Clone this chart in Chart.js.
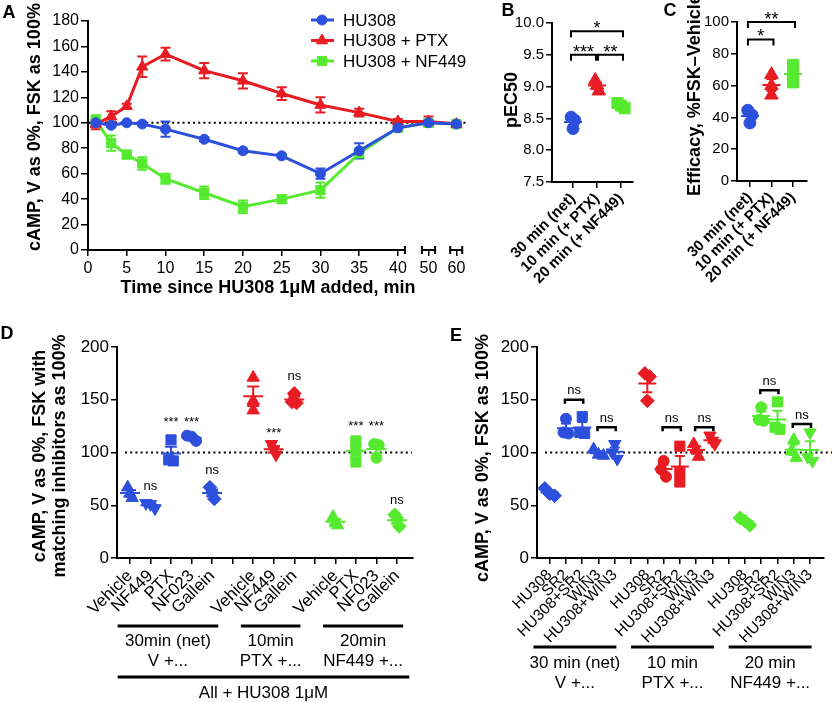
<!DOCTYPE html>
<html>
<head>
<meta charset="utf-8">
<script src="https://cdn.jsdelivr.net/npm/chart.js@4.4.1/dist/chart.umd.min.js"></script>
<style>
  html, body { margin: 0; padding: 0; background: #fff; }
  #wrap { position: relative; width: 832px; height: 702px; overflow: hidden; }
  #wrap canvas { position: absolute; left: 0; top: 0; }
</style>
</head>
<body>
<div id="wrap">
  <canvas id="chartA" width="832" height="702"></canvas>
  <canvas id="chartB" width="832" height="702"></canvas>
  <canvas id="chartC" width="832" height="702"></canvas>
  <canvas id="chartD" width="832" height="702"></canvas>
  <canvas id="chartE" width="832" height="702"></canvas>
</div>
<script>
// ---- A: time course after HU308 1uM ----
const timeMin = [1, 3, 5, 7, 10, 15, 20, 25, 30, 35, 40, 50, 60];
const timeTicks = [0, 5, 10, 15, 20, 25, 30, 35, 40, 50, 60];
const hu308 = [100, 98, 100, 99, 95, 87, 78, 74, 60, 78, 96, 100, 99];
const hu308Sem = [3, 1, 1, 1, 6, 1.5, 1.5, 1.5, 4, 6, 2, 1.5, 1.5];
const hu308Ptx = [99, 105, 113, 144, 154, 141, 133, 123, 114, 108, 101, 101, 99];
const hu308PtxSem = [4, 4, 2, 8, 5, 6, 6, 5, 6, 3, 2, 4, 2];
const hu308Nf449 = [102, 84, 75, 68, 56, 45, 34, 40, 47, 76, 96, 100, 99];
const hu308Nf449Sem = [4, 6, 3, 5, 4, 5, 5, 3, 6, 3, 2, 3, 2];

// ---- B / C ----
const groupsBC = ['30 min (net)', '10 min (+ PTX)', '20 min (+ NF449)'];
const pEC50 = [[8.52, 8.47, 8.34], [9.10, 9.02, 8.93], [8.74, 8.70, 8.66]];
const efficacy = [[44.5, 41.5, 36.5], [67, 60, 54], [73, 67, 62]];
const sigB = [
    { from: 0, to: 2, y: 9.87, label: '*' },
    { from: 0, to: 1, y: 9.5, label: '***' },
    { from: 1, to: 2, y: 9.5, label: '**' }
];
const sigC = [
    { from: 0, to: 2, y: 100, label: '**' },
    { from: 0, to: 1, y: 89, label: '*' }
];

// ---- D ----
const inhibitorsD = ['Vehicle', 'NF449', 'PTX', 'NF023', 'Gallein', '',
    'Vehicle', 'NF449', 'Gallein', '',
    'Vehicle', 'PTX', 'NF023', 'Gallein'];
const campD = [[67, 61, 57], [52, 51, 47], [112, 93, 92], [116, 115, 111], [67, 62, 56], null,
    [171, 149, 140], [108, 103, 98], [156, 148, 147], null,
    [39, 33, 31], [111, 102, 91], [108, 107, 95], [41, 36, 30]];
const sigD = [
    { at: 1, y: 68, label: 'ns' },
    { at: 2, y: 132, label: '***' },
    { at: 3, y: 132, label: '***' },
    { at: 4, y: 83, label: 'ns' },
    { at: 7, y: 122, label: '***' },
    { at: 8, y: 172, label: 'ns' },
    { at: 11, y: 128, label: '***' },
    { at: 12, y: 128, label: '***' },
    { at: 13, y: 54, label: 'ns' }
];
const pretreatD = [
    { from: 0, to: 4, lines: ['30min (net)', 'V +...'] },
    { from: 6, to: 8, lines: ['10min', 'PTX +...'] },
    { from: 10, to: 13, lines: ['20min', 'NF449 +...'] }
];
const footD = 'All + HU308 1\u03bcM';

// ---- E ----
const agonistsE = ['HU308', 'SR2', 'HU308+SR2', 'WIN3', 'HU308+WIN3'];
const labelsE = [...agonistsE, '', ...agonistsE, '', ...agonistsE];
const campE = [[66, 61, 59], [132, 119, 118], [134, 119, 118], [103, 98, 97], [108, 100, 94], null,
    [175, 172, 149], [92, 84, 77], [106, 82, 72], [108, 103, 96], [116, 111, 108], null,
    [38, 35, 31], [143, 131, 130], [148, 124, 122], [112, 101, 95], [119, 96, 92]];
const nsPairsE = [
    { from: 1, to: 2, y: 150 }, { from: 3, to: 4, y: 124 },
    { from: 7, to: 8, y: 124 }, { from: 9, to: 10, y: 124 },
    { from: 13, to: 14, y: 159 }, { from: 15, to: 16, y: 127 }
];
const pretreatE = [
    { from: 0, to: 4, lines: ['30 min (net)', 'V +...'] },
    { from: 6, to: 10, lines: ['10 min', 'PTX +...'] },
    { from: 12, to: 16, lines: ['20 min', 'NF449 +...'] }
];

// ---- styles ----
const FONT = "'Liberation Sans', Arial, Helvetica, sans-serif";
const BLUE = '#2d50dc';
const RED = '#e81c23';
const GREEN = '#55ea2f';
const GROUP_COLORS = [BLUE, RED, GREEN];
const SHAPES = {
    circle: ['circle', 1, 0],
    triangle: ['triangle', 1.3, 0],
    down: ['triangle', 1.3, 180],
    square: ['rect', 1.3, 0],
    diamond: ['rectRot', 1.25, 0]
};
const shapeOfD = { Vehicle: 'triangle', NF449: 'down', PTX: 'square', NF023: 'circle', Gallein: 'diamond' };
const shapeOfE = { 'HU308': 'diamond', 'SR2': 'circle', 'HU308+SR2': 'square', 'WIN3': 'triangle', 'HU308+WIN3': 'down' };

Chart.defaults.font.family = FONT;
Chart.defaults.color = '#000';

const GRID = { drawOnChartArea: false, drawTicks: true, tickLength: 6, color: '#000', tickColor: '#000', tickWidth: 1.5, lineWidth: 1.5 };
const BORDER = { color: '#000', width: 2 };

function drawText(ctx, str, x, y, size, o) {
    o = o || {};
    ctx.save();
    ctx.font = (o.bold ? 'bold ' : '') + size + 'px ' + FONT;
    ctx.fillStyle = '#000';
    ctx.textAlign = o.align || 'center';
    ctx.textBaseline = o.baseline || 'middle';
    ctx.translate(x, y);
    if (o.rot) ctx.rotate(o.rot);
    ctx.fillText(str, 0, 0);
    ctx.restore();
}

function line(ctx, x1, y1, x2, y2, w) {
    ctx.save();
    ctx.strokeStyle = '#000';
    ctx.lineWidth = w || 2;
    ctx.beginPath();
    ctx.moveTo(x1, y1);
    ctx.lineTo(x2, y2);
    ctx.stroke();
    ctx.restore();
}

function dotted100(chart, x1, x2) {
    const ctx = chart.ctx, y = chart.scales.y.getPixelForValue(100);
    ctx.save();
    ctx.strokeStyle = '#000';
    ctx.lineWidth = 2;
    ctx.setLineDash([2, 3.2]);
    ctx.beginPath();
    ctx.moveTo(x1, y);
    ctx.lineTo(x2, y);
    ctx.stroke();
    ctx.restore();
}

function bracket(ctx, x1, x2, y, drop, w) {
    ctx.save();
    ctx.strokeStyle = '#000';
    ctx.lineWidth = w || 2;
    ctx.beginPath();
    ctx.moveTo(x1, y + drop);
    ctx.lineTo(x1, y);
    ctx.lineTo(x2, y);
    ctx.lineTo(x2, y + drop);
    ctx.stroke();
    ctx.restore();
}

// spread overlapping replicate points sideways, like a scatter dot plot
function spread(vals, tol, step) {
    return vals.map((v, k) => {
        const near = vals.map((w, m) => m).filter(m => Math.abs(vals[m] - v) < tol);
        const r = near.indexOf(k);
        return (r - (near.length - 1) / 2) * step;
    });
}

function colorByGroup(groups, i) {
    const g = groups.findIndex(gr => i >= gr.from && i <= gr.to);
    return GROUP_COLORS[g];
}

// ---------------- Panel A ----------------
function brokenAxis(t) {
    return t <= 40 ? t : 43.95 + (t - 50) * 0.36;
}

function seriesA(label, values, sem, color, shape, r) {
    return {
        label: label,
        data: values.map((v, i) => ({ x: brokenAxis(timeMin[i]), y: v })),
        sem: sem,
        borderColor: color,
        backgroundColor: color,
        pointStyle: shape,
        pointRadius: r,
        pointBorderWidth: 1,
        borderWidth: 3,
        tension: 0
    };
}

var chartA = new Chart(document.getElementById('chartA'), {
    type: 'line',
    data: {
        datasets: [
            seriesA('HU308', hu308, hu308Sem, BLUE, 'circle', 5),
            seriesA('HU308 + PTX', hu308Ptx, hu308PtxSem, RED, 'triangle', 6.5),
            seriesA('HU308 + NF449', hu308Nf449, hu308Nf449Sem, GREEN, 'rect', 6.5)
        ]
    },
    options: {
        responsive: false,
        animation: false,
        events: [],
        layout: { padding: { left: 0, top: 21, right: 369, bottom: 0 } },
        plugins: { legend: { display: false }, tooltip: { enabled: false } },
        scales: {
            x: {
                type: 'linear', min: 0, max: 48.4,
                afterBuildTicks: s => { s.ticks = timeTicks.map(t => ({ value: brokenAxis(t) })); },
                afterFit: s => { s.height = 702 - 250; },
                ticks: { autoSkip: false, maxRotation: 0, padding: 3, font: { size: 16 }, callback: (v, i) => String(timeTicks[i]) },
                grid: GRID,
                border: { display: false }
            },
            y: {
                min: 0, max: 180,
                afterFit: s => { s.width = 88; },
                ticks: { stepSize: 20, padding: 2, font: { size: 16 } },
                grid: Object.assign({}, GRID, { tickLength: 7 }),
                border: BORDER
            }
        }
    },
    plugins: [{
        id: 'belowA',
        beforeDatasetsDraw(chart) {
            dotted100(chart, 89, 466);
            const ctx = chart.ctx, xs = chart.scales.x, ys = chart.scales.y;
            for (let d = chart.data.datasets.length - 1; d >= 0; d--) {
                const ds = chart.data.datasets[d];
                ctx.save();
                ctx.strokeStyle = ds.borderColor;
                ctx.lineWidth = 2;
                ds.data.forEach((pt, j) => {
                    const e = ds.sem[j];
                    const x = xs.getPixelForValue(pt.x);
                    const y1 = ys.getPixelForValue(pt.y + e), y2 = ys.getPixelForValue(pt.y - e);
                    ctx.beginPath();
                    ctx.moveTo(x, y1); ctx.lineTo(x, y2);
                    ctx.moveTo(x - 5, y1); ctx.lineTo(x + 5, y1);
                    ctx.moveTo(x - 5, y2); ctx.lineTo(x + 5, y2);
                    ctx.stroke();
                });
                ctx.restore();
            }
        }
    }, {
        id: 'decorA',
        afterDraw(chart) {
            const ctx = chart.ctx, xs = chart.scales.x, y = chart.chartArea.bottom;
            // broken x axis
            [[0, 40.9, false], [43.1, 44.8, true], [46.75, 48.3, true]].forEach(([a, b, capA]) => {
                const x1 = xs.getPixelForValue(a), x2 = xs.getPixelForValue(b);
                line(ctx, x1 - 1, y, x2, y, 2);
                if (capA) line(ctx, x1, y - 4, x1, y + 4, 2);
                line(ctx, x2, y - 4, x2, y + 4, 2);
            });
            drawText(ctx, 'A', 9, 13, 18, { bold: true });
            drawText(ctx, 'cAMP, V as 0%, FSK as 100%', 35, 127, 18, { bold: true, rot: -Math.PI / 2 });
            drawText(ctx, 'Time since HU308 1\u03bcM added, min', 268, 288, 18, { bold: true });
            // legend
            chart.data.datasets.forEach((ds, i) => {
                const ly = 20 + i * 20.5;
                ctx.save();
                ctx.strokeStyle = ds.borderColor;
                ctx.fillStyle = ds.backgroundColor;
                ctx.lineWidth = 3;
                ctx.beginPath(); ctx.moveTo(311, ly); ctx.lineTo(334, ly); ctx.stroke();
                ctx.lineWidth = 1;
                Chart.helpers.drawPoint(ctx, { pointStyle: ds.pointStyle, radius: ds.pointRadius, rotation: 0, borderWidth: 1 }, 322, ly);
                ctx.restore();
                drawText(ctx, ds.label, 343, ly + 1, 17, { align: 'left' });
            });
        }
    }]
});

// ---------------- dot plot panels ----------------
function dotPanel(id, p) {
    const datasets = [];
    p.values.forEach((vals, i) => {
        if (!vals) return;
        const off = spread(vals, p.tol, p.step);
        const sh = SHAPES[p.shapes[i]];
        datasets.push({
            cat: i,
            values: vals,
            data: vals.map((v, j) => ({ x: i + off[j], y: v })),
            pointStyle: sh[0],
            pointRadius: p.radius * sh[1],
            pointRotation: sh[2],
            pointBorderWidth: 1,
            backgroundColor: p.colors[i],
            borderColor: p.colors[i]
        });
    });
    return new Chart(document.getElementById(id), {
        type: 'scatter',
        data: { datasets: datasets },
        options: {
            responsive: false,
            animation: false,
            events: [],
            layout: { padding: { left: 0, top: p.area.top, right: 832 - p.area.right, bottom: 0 } },
            plugins: { legend: { display: false }, tooltip: { enabled: false } },
            scales: {
                x: {
                    type: 'linear', min: p.xMin, max: p.xMax,
                    afterBuildTicks: s => { s.ticks = p.labels.map((_, i) => ({ value: i })); },
                    afterFit: s => { s.height = 702 - p.area.bottom; },
                    ticks: { autoSkip: false, minRotation: 45, maxRotation: 45, padding: 2, font: p.xFont, callback: (v, i) => p.labels[i] },
                    grid: GRID,
                    border: BORDER
                },
                y: {
                    min: p.yMin, max: p.yMax,
                    afterFit: s => { s.width = p.area.left; },
                    ticks: { stepSize: p.yStep, padding: 2, font: p.yFont, callback: p.yFormat || (v => v) },
                    grid: GRID,
                    border: BORDER
                }
            }
        },
        plugins: [{
            id: 'below',
            beforeDatasetsDraw(chart) { if (p.below) p.below(chart); }
        }, {
            id: 'meanSem',
            afterDatasetsDraw(chart) {
                const ctx = chart.ctx, xs = chart.scales.x, ys = chart.scales.y;
                chart.data.datasets.forEach(ds => {
                    const n = ds.values.length;
                    const m = ds.values.reduce((a, b) => a + b, 0) / n;
                    const sd = Math.sqrt(ds.values.reduce((a, b) => a + (b - m) * (b - m), 0) / (n - 1));
                    const sem = sd / Math.sqrt(n);
                    const cx = xs.getPixelForValue(ds.cat);
                    const ym = ys.getPixelForValue(m), y1 = ys.getPixelForValue(m + sem), y2 = ys.getPixelForValue(m - sem);
                    ctx.save();
                    ctx.strokeStyle = ds.borderColor;
                    ctx.lineWidth = 2;
                    ctx.beginPath();
                    ctx.moveTo(cx - p.meanHalf, ym); ctx.lineTo(cx + p.meanHalf, ym);
                    ctx.moveTo(cx, y1); ctx.lineTo(cx, y2);
                    ctx.moveTo(cx - p.capHalf, y1); ctx.lineTo(cx + p.capHalf, y1);
                    ctx.moveTo(cx - p.capHalf, y2); ctx.lineTo(cx + p.capHalf, y2);
                    ctx.stroke();
                    ctx.restore();
                });
            }
        }, {
            id: 'decor',
            afterDraw(chart) { p.decor(chart, chart.ctx, chart.scales.x, chart.scales.y); }
        }]
    });
}

function sigBrackets(list, ctx, xs, ys) {
    list.forEach(s => {
        const x1 = xs.getPixelForValue(s.from) - 2 + (s.from > 0 ? 3 : 0);
        const x2 = xs.getPixelForValue(s.to) + 2 - (s.to < 2 && list.some(o => o.from === s.to) ? 3 : 0);
        const y = ys.getPixelForValue(s.y);
        bracket(ctx, x1, x2, y, 6, 2);
        drawText(ctx, s.label, (x1 + x2) / 2, y + 3, 18, { baseline: 'alphabetic' });
    });
}

var chartB = dotPanel('chartB', {
    labels: groupsBC,
    values: pEC50,
    colors: GROUP_COLORS,
    shapes: ['circle', 'triangle', 'square'],
    radius: 6, tol: 0.12, step: 0.15, meanHalf: 9, capHalf: 5,
    area: { left: 552, right: 633, top: 23, bottom: 182 },
    xMin: -0.875, xMax: 2.5,
    yMin: 7.5, yMax: 10, yStep: 0.5, yFormat: v => v.toFixed(1),
    xFont: { size: 15, weight: 'bold' }, yFont: { size: 15 },
    decor(chart, ctx, xs, ys) {
        drawText(ctx, 'B', 508, 11, 18, { bold: true });
        drawText(ctx, 'pEC50', 512, 100, 18, { bold: true, rot: -Math.PI / 2 });
        sigBrackets(sigB, ctx, xs, ys);
    }
});

var chartC = dotPanel('chartC', {
    labels: groupsBC,
    values: efficacy,
    colors: GROUP_COLORS,
    shapes: ['circle', 'triangle', 'square'],
    radius: 6, tol: 5, step: 0.2, meanHalf: 9, capHalf: 5,
    area: { left: 737, right: 807, top: 22, bottom: 181 },
    xMin: -0.6, xMax: 2.65,
    yMin: 0, yMax: 100, yStep: 20,
    xFont: { size: 15, weight: 'bold' }, yFont: { size: 15 },
    decor(chart, ctx, xs, ys) {
        drawText(ctx, 'C', 670, 11, 18, { bold: true });
        drawText(ctx, 'Efficacy, %FSK\u2013Vehicle', 695, 95, 18, { bold: true, rot: -Math.PI / 2 });
        sigBrackets(sigC, ctx, xs, ys);
    }
});

function groupLabels(groups, ctx, xs, lineY, textY, padL, padR) {
    groups.forEach(g => {
        const x1 = xs.getPixelForValue(g.from - padL), x2 = xs.getPixelForValue(g.to + padR);
        line(ctx, x1, lineY, x2, lineY, 3);
        drawText(ctx, g.lines[0], (x1 + x2) / 2, textY, 17);
        drawText(ctx, g.lines[1], (x1 + x2) / 2, textY + 20, 17);
    });
}

var chartD = dotPanel('chartD', {
    labels: inhibitorsD,
    values: campD,
    colors: inhibitorsD.map((_, i) => colorByGroup(pretreatD, i)),
    shapes: inhibitorsD.map(l => shapeOfD[l]),
    radius: 5.5, tol: 8, step: 0.22, meanHalf: 10, capHalf: 6,
    area: { left: 117, right: 413, top: 347, bottom: 558 },
    xMin: -0.63, xMax: 13.78,
    yMin: 0, yMax: 200, yStep: 50,
    xFont: { size: 17 }, yFont: { size: 17 },
    below(chart) { dotted100(chart, 125, 412); },
    decor(chart, ctx, xs, ys) {
        drawText(ctx, 'D', 7, 334, 18, { bold: true });
        drawText(ctx, 'cAMP, V as 0%, FSK with', 40, 456, 18, { bold: true, rot: -Math.PI / 2 });
        drawText(ctx, 'matching inhibitors as 100%', 60, 456, 18, { bold: true, rot: -Math.PI / 2 });
        sigD.forEach(s => {
            const size = 13;
            const lift = s.label === 'ns' ? 0.26 : 0.57;
            drawText(ctx, s.label, xs.getPixelForValue(s.at), ys.getPixelForValue(s.y) + lift * size, size, { baseline: 'alphabetic' });
        });
        groupLabels(pretreatD, ctx, xs, 626, 641, 0.6, 0.3);
        const xa = xs.getPixelForValue(pretreatD[0].from - 0.6);
        const xb = xs.getPixelForValue(pretreatD[pretreatD.length - 1].to + 0.6);
        line(ctx, xa, 677, xb, 677, 3);
        drawText(ctx, footD, (xa + xb) / 2, 693, 17);
    }
});

var chartE = dotPanel('chartE', {
    labels: labelsE,
    values: campE,
    colors: labelsE.map((_, i) => colorByGroup(pretreatE, i)),
    shapes: labelsE.map(l => shapeOfE[l] || 'circle'),
    radius: 5.5, tol: 8, step: 0.3, meanHalf: 9, capHalf: 5,
    area: { left: 537, right: 831, top: 347, bottom: 558 },
    xMin: -0.78, xMax: 16.85,
    yMin: 0, yMax: 200, yStep: 50,
    xFont: { size: 15.5 }, yFont: { size: 17 },
    below(chart) { dotted100(chart, 545, 832); },
    decor(chart, ctx, xs, ys) {
        drawText(ctx, 'E', 456, 336, 18, { bold: true });
        drawText(ctx, 'cAMP, V as 0%, FSK as 100%', 483, 458, 18, { bold: true, rot: -Math.PI / 2 });
        nsPairsE.forEach(b => {
            const x1 = xs.getPixelForValue(b.from) - 1, x2 = xs.getPixelForValue(b.to) + 1;
            const y = ys.getPixelForValue(b.y);
            bracket(ctx, x1, x2, y, 4, 2.5);
            drawText(ctx, 'ns', (x1 + x2) / 2, y - 5.5, 13, { baseline: 'alphabetic' });
        });
        groupLabels(pretreatE, ctx, xs, 647, 663, 1.0, 0.1);
    }
});
</script>
</body>
</html>
